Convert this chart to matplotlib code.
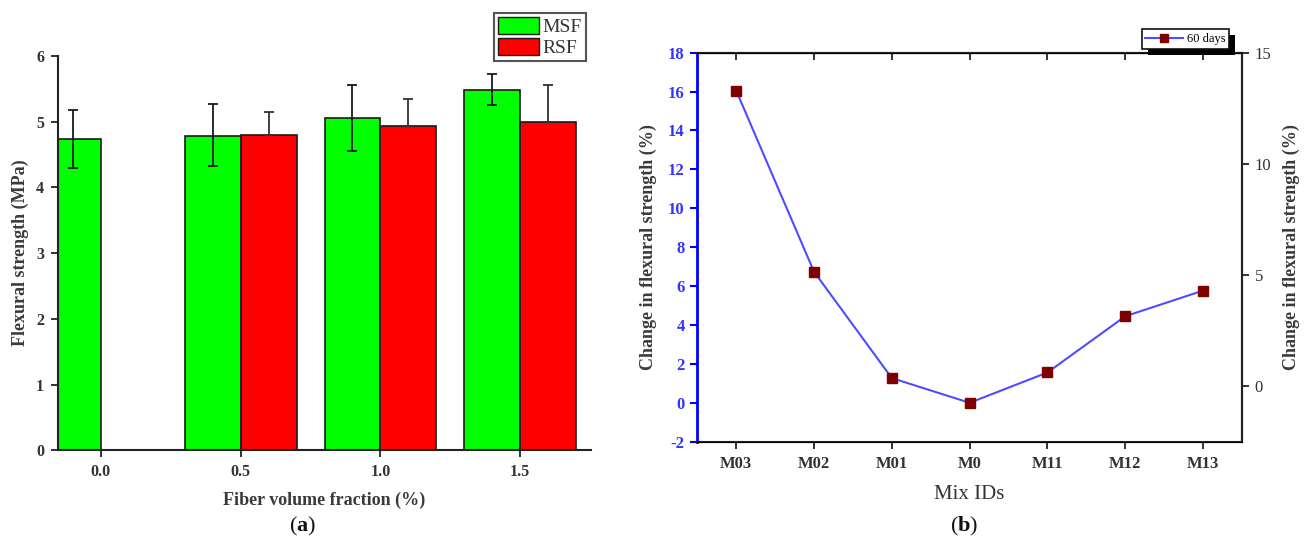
import matplotlib
matplotlib.use('Agg')
import matplotlib.pyplot as plt
import numpy as np
from matplotlib.patches import Patch, Rectangle
from matplotlib.lines import Line2D

plt.rcParams['font.family'] = 'Liberation Serif'
plt.rcParams['mathtext.fontset'] = 'custom'
plt.rcParams['mathtext.rm'] = 'Liberation Serif'
plt.rcParams['mathtext.bf'] = 'Liberation Serif:bold'
plt.rcParams['axes.unicode_minus'] = False

# (a) flexural strength vs fiber volume fraction
fractions = [0.0, 0.5, 1.0, 1.5]
frac_labels = ['0.0', '0.5', '1.0', '1.5']
msf = [4.74, 4.79, 5.05, 5.48]
msf_err_low = [0.45, 0.47, 0.50, 0.22]
msf_err_up = [0.44, 0.48, 0.51, 0.24]
rsf = [0.0, 4.80, 4.94, 5.00]
rsf_err_up = [0.0, 0.35, 0.40, 0.56]

# (b) change in flexural strength by mix
mixes = ['M03', 'M02', 'M01', 'M0', 'M11', 'M12', 'M13']
change_60d = [16.05, 6.74, 1.27, 0.0, 1.56, 4.45, 5.77]

fig = plt.figure(figsize=(13.04, 5.47), dpi=100)
dark = '#333333'
blue = '#3333ff'

# ---------- panel (a) ----------
ax1 = fig.add_axes([0.0445, 0.1768, 0.4085, 0.7208])
x = np.array(fractions)
w = 0.2
ax1.bar(x - w / 2, msf, w, color='#00ff00', edgecolor='#1a1a1a', linewidth=1.2, zorder=2)
ax1.bar(x[1:] + w / 2, rsf[1:], w, color='#ff0000', edgecolor='#1a1a1a', linewidth=1.2, zorder=2)
ax1.errorbar(x - w / 2, msf, yerr=[msf_err_low, msf_err_up], fmt='none', ecolor='#1a1a1a',
             elinewidth=1.3, capsize=3.5, capthick=1.3, zorder=3)
ax1.errorbar(x[1:] + w / 2, rsf[1:], yerr=[[0, 0, 0], rsf_err_up[1:]], fmt='none', ecolor='#333333',
             elinewidth=1.3, capsize=3.5, capthick=1.3, zorder=3)
ax1.set_xlim(-0.153, 1.752)
ax1.set_ylim(0, 6)
ax1.set_xticks(fractions)
ax1.set_xticklabels(frac_labels)
ax1.set_yticks(range(0, 7))
for s in ['top', 'right']:
    ax1.spines[s].set_visible(False)
for s in ['left', 'bottom']:
    ax1.spines[s].set_linewidth(1.5)
    ax1.spines[s].set_color('#222222')
ax1.tick_params(direction='out', length=5, width=1.3, colors='#222222', labelsize=11.5,
                labelcolor=dark, pad=5)
for lab in ax1.get_xticklabels() + ax1.get_yticklabels():
    lab.set_fontweight('bold')
ax1.set_xlabel('Fiber volume fraction (%)', fontsize=13, fontweight='bold', color='#3a3a3a', labelpad=8)
ax1.set_ylabel('Flexural strength (MPa)', fontsize=13, fontweight='bold', color='#3a3a3a', labelpad=5)

leg1 = fig.legend(handles=[Patch(facecolor='#00ff00', edgecolor='#1a1a1a', label='MSF'),
                           Patch(facecolor='#ff0000', edgecolor='#1a1a1a', label='RSF')],
                  loc='upper right', bbox_to_anchor=(586 / 1304, 1 - 13.3 / 547),
                  fontsize=14, handlelength=2.1, handleheight=0.95, labelspacing=0.1,
                  borderpad=0.2, handletextpad=0.2, borderaxespad=0, fancybox=False,
                  frameon=True, framealpha=1, edgecolor='#555555')
leg1.get_frame().set_linewidth(1.5)
for t in leg1.get_texts():
    t.set_color('#333333')

# ---------- panel (b) ----------
ax2 = fig.add_axes([0.5347, 0.1925, 0.4178, 0.7112])
pos = np.arange(len(mixes))
ax2.plot(pos, change_60d, color='#4d4dff', linewidth=1.5, marker='s', markersize=6.5,
         markerfacecolor='#800000', markeredgecolor='#800000', zorder=3)
ax2.set_xlim(-0.5, 6.5)
ax2.set_ylim(-2, 18)
ax2.set_xticks(pos)
ax2.set_xticklabels(mixes)
ax2.set_yticks(range(-2, 19, 2))
ax2.spines['left'].set_color('blue')
ax2.spines['left'].set_linewidth(2)
for s in ['top', 'bottom', 'right']:
    ax2.spines[s].set_linewidth(1.5)
    ax2.spines[s].set_color('#222222')
ax2.tick_params(axis='x', direction='out', length=5, width=1.3, colors='#222222', labelsize=12,
                labelcolor=dark, pad=5)
ax2.tick_params(axis='y', direction='out', length=5, width=1.5, colors='blue', labelsize=12,
                labelcolor=blue, pad=4)
for lab in ax2.get_xticklabels() + ax2.get_yticklabels():
    lab.set_fontweight('bold')
ax2.set_xlabel('Mix IDs', fontsize=15, color='#333333', labelpad=10)
ax2.set_ylabel('Change in flexural strength (%)', fontsize=13, fontweight='bold', color='#3a3a3a',
               labelpad=8)

top = ax2.secondary_xaxis('top')
top.set_xticks(pos)
top.set_xticklabels([])
top.tick_params(direction='in', length=5, width=1.3, colors='#222222')
top.spines['top'].set_linewidth(1.5)

ax3 = ax2.twinx()
ax3.set_ylim(-2.5, 15)
ax3.set_yticks([0, 5, 10, 15])
ax3.spines['left'].set_visible(False)
ax3.spines['right'].set_linewidth(1.5)
ax3.spines['right'].set_color('#222222')
ax3.tick_params(direction='out', length=5, width=1.3, colors='#222222', labelsize=12,
                labelcolor=dark, pad=4)
ax3.set_ylabel('Change in flexural strength (%)', fontsize=13, fontweight='bold', color='#3a3a3a',
               labelpad=8)

leg2 = fig.legend(handles=[Line2D([], [], color='#4d4dff', linewidth=1.5, marker='s', markersize=6,
                                  markerfacecolor='#800000', markeredgecolor='#800000', label='60 days')],
                  loc='upper right', bbox_to_anchor=(1229 / 1304, 1 - 29.3 / 547),
                  fontsize=9, handlelength=3.0, borderpad=0.3, handletextpad=0.3,
                  borderaxespad=0, fancybox=False, frameon=True, framealpha=1, edgecolor='#111111')
leg2.get_frame().set_linewidth(1.2)
leg2.set_zorder(6)

# panel captions
fig.text(0.232, 0.037, r'($\mathbf{a}$)', ha='center', va='center', fontsize=16, color='#111111')
fig.text(0.739, 0.037, r'($\mathbf{b}$)', ha='center', va='center', fontsize=16, color='#111111')

# black drop shadow behind legend (b)
fig.canvas.draw()
bb = leg2.get_window_extent().transformed(fig.transFigure.inverted())
dx, dy = 6 / 1304, 6 / 547
fig.patches.append(Rectangle((bb.x0 + dx, bb.y0 - dy), bb.width, bb.height, transform=fig.transFigure,
                             facecolor='black', edgecolor='none', zorder=5.5))

fig.savefig('out.png', dpi=100)
